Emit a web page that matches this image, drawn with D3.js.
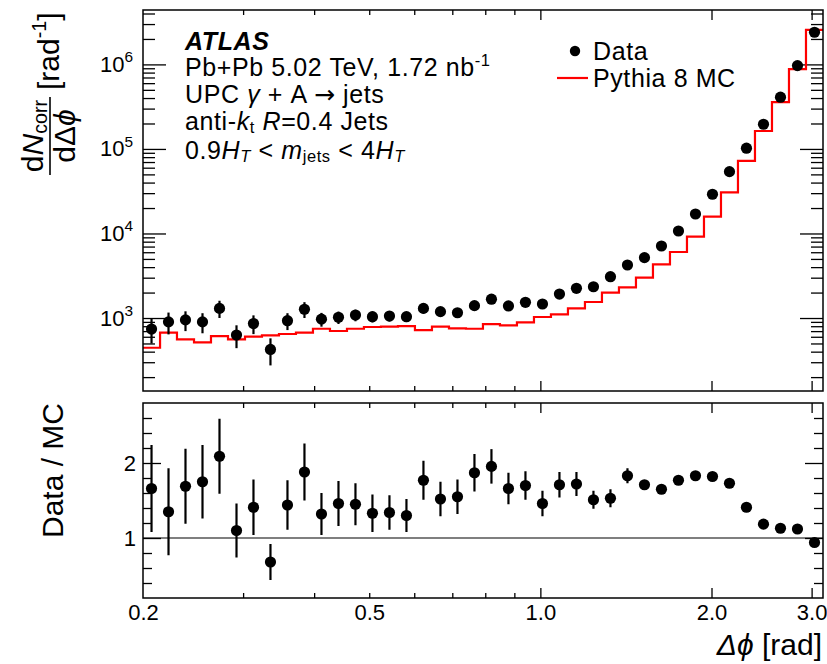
<!DOCTYPE html>
<html>
<head>
<meta charset="utf-8">
<script src="https://cdn.jsdelivr.net/npm/d3@7"></script>
<style>
  body { margin: 0; background: #fff; }
  svg { display: block; font-family: "Liberation Sans", Arial, Helvetica, sans-serif; }
  text { white-space: pre; fill: #000; }
</style>
</head>
<body>
<svg id="chart" width="827" height="664"></svg>
<script>
// Δφ bin edges (log-uniform, 40 bins from 0.2 to π)
const binEdges = [0.2000, 0.2143, 0.2295, 0.2459, 0.2634, 0.2822, 0.3023, 0.3238, 0.3469, 0.3716,
  0.3981, 0.4265, 0.4569, 0.4894, 0.5243, 0.5617, 0.6017, 0.6446, 0.6906, 0.7398,
  0.7925, 0.8490, 0.9095, 0.9744, 1.0438, 1.1182, 1.1979, 1.2833, 1.3748, 1.4728,
  1.5778, 1.6903, 1.8108, 1.9399, 2.0782, 2.2263, 2.3850, 2.5551, 2.7372, 2.9324, 3.1416];

// Corrected data yield dN/dΔφ per bin
const dataCounts = [740, 900, 950, 900, 1300, 630, 860, 425, 930, 1270,
  970, 1020, 1085, 1036, 1056, 1036, 1300, 1190, 1155, 1400,
  1670, 1390, 1535, 1465, 1920, 2245, 2345, 3080, 4240, 5180,
  7110, 10700, 17000, 29100, 53900, 102000, 196000, 409000, 968000, 2400000];
const dataErr = [240, 260, 250, 240, 300, 190, 215, 150, 210, 270,
  180, 170, 170, 150, 150, 140, 170, 150, 140, 160,
  170, 150, 150, 120, 160, 180, 170, 200, 200, 150,
  180, 200, 250, 300, 500, 800, 1500, 3000, 6000, 15000];

// Pythia 8 MC prediction per bin
const mcCounts = [445, 670, 560, 516, 612, 560, 601, 624, 647, 670,
  747, 702, 747, 783, 790, 804, 721, 790, 755, 747,
  849, 819, 889, 1028, 1106, 1303, 1547, 1994, 2307, 2998,
  4316, 6040, 9160, 15800, 30700, 72100, 163000, 357000, 877000, 2560000];

// Data / MC ratio per bin
const ratioVals = [1.66, 1.35, 1.69, 1.75, 2.09, 1.10, 1.41, 0.68, 1.44, 1.88,
  1.32, 1.46, 1.45, 1.33, 1.34, 1.30, 1.77, 1.52, 1.55, 1.87,
  1.955, 1.66, 1.70, 1.46, 1.71, 1.72, 1.51, 1.53, 1.83, 1.71,
  1.65, 1.77, 1.83, 1.82, 1.73, 1.41, 1.185, 1.13, 1.12, 0.94];
const ratioErr = [0.58, 0.58, 0.50, 0.49, 0.50, 0.36, 0.37, 0.24, 0.33, 0.38,
  0.28, 0.30, 0.28, 0.25, 0.23, 0.22, 0.26, 0.23, 0.23, 0.25,
  0.23, 0.21, 0.19, 0.17, 0.17, 0.16, 0.12, 0.12, 0.10, 0.06,
  0.05, 0.04, 0.04, 0.03, 0.03, 0.02, 0.02, 0.02, 0.02, 0.02];

// Axis ticks
const xLabelTicks = [0.2, 0.5, 1.0, 2.0, 3.0];
const xShortTicks = [0.3, 0.4, 0.5, 0.6, 0.7, 0.8, 0.9];
const xLongTicks = [1.0, 2.0, 3.0];
const yTopMajor = [1e3, 1e4, 1e5, 1e6];
const yRatioMajor = [1, 2];
const yRatioMinor = [0.4, 0.6, 0.8, 1.2, 1.4, 1.6, 1.8, 2.2, 2.4, 2.6];

const svg = d3.select("#chart");
const L = 143, R = 823, T1 = 10, B1 = 391, T2 = 403, B2 = 598;
const TICK_FONT = 22, TEXT_FONT = 25, TEXT_SPACING = 0.6, TITLE_FONT = 30;
const PHI = "\u03D5";

const x = d3.scaleLog().domain([0.2, Math.PI]).range([L, R]);
const yTop = d3.scaleLog().domain([137, 4.4e6]).range([B1, T1]);
const yRat = d3.scaleLinear().domain([0.2, 2.8]).range([B2, T2]);

const bins = dataCounts.map((v, i) => ({
  lo: binEdges[i], hi: binEdges[i + 1], c: Math.sqrt(binEdges[i] * binEdges[i + 1]),
  data: v, err: dataErr[i], mc: mcCounts[i], r: ratioVals[i], rErr: ratioErr[i]
}));

// Rich text helper: segments with italic / bold / sub / sup
function richText(g, px, py, segs, size) {
  const t = g.append("text").attr("x", px).attr("y", py).attr("font-size", size);
  let shift = 0;
  segs.forEach(s => {
    const sp = t.append("tspan").text(s.t);
    const target = s.sub ? size * 0.12 : s.sup ? -size * 0.42 : 0;
    sp.attr("dy", target - shift);
    shift = target;
    if (s.sub || s.sup) sp.attr("font-size", size * 0.66);
    if (s.i) sp.attr("font-style", "italic");
    if (s.b) sp.attr("font-weight", "bold");
    if (s.f) sp.attr("font-family", s.f);
  });
  return t;
}

function styleAxis(g, w) {
  g.select(".domain").remove();
  g.selectAll(".tick line").attr("stroke", "#000").attr("stroke-width", w || 1.3);
}

// x ticks on both edges of a panel
function xPanelTicks(top, bottom) {
  [[d3.axisBottom, bottom], [d3.axisTop, top]].forEach(([ax, yp]) => {
    svg.append("g").attr("transform", `translate(0,${yp})`)
      .call(ax(x).tickValues(xShortTicks).tickSize(-5).tickFormat(""))
      .call(g => styleAxis(g));
    svg.append("g").attr("transform", `translate(0,${yp})`)
      .call(ax(x).tickValues(xLongTicks).tickSize(-10).tickFormat(""))
      .call(g => styleAxis(g));
  });
}

// ---------- clip paths ----------
const defs = svg.append("defs");
defs.append("clipPath").attr("id", "clipTop").append("rect")
  .attr("x", L).attr("y", T1).attr("width", R - L).attr("height", B1 - T1);
defs.append("clipPath").attr("id", "clipRat").append("rect")
  .attr("x", L).attr("y", T2).attr("width", R - L).attr("height", B2 - T2);

// ---------- top panel ----------
xPanelTicks(T1, B1);

const yMinorTop = [];
[100, 1e3, 1e4, 1e5, 1e6].forEach(d => { for (let m = 2; m <= 9; m++) yMinorTop.push(d * m); });
const yMinorIn = yMinorTop.filter(v => v >= 137 && v <= 4.4e6);

[[d3.axisLeft, L], [d3.axisRight, R]].forEach(([ax, xp]) => {
  svg.append("g").attr("transform", `translate(${xp},0)`)
    .call(ax(yTop).tickValues(yTopMajor).tickSize(-23).tickFormat(""))
    .call(g => styleAxis(g));
  svg.append("g").attr("transform", `translate(${xp},0)`)
    .call(ax(yTop).tickValues(yMinorIn).tickSize(-12).tickFormat(""))
    .call(g => styleAxis(g));
});

// y labels 10^n
svg.append("g").attr("transform", `translate(${L},0)`)
  .call(d3.axisLeft(yTop).tickValues(yTopMajor).tickSize(0).tickPadding(10).tickFormat(""))
  .call(g => {
    g.select(".domain").remove();
    g.selectAll(".tick text").each(function (d) {
      const t = d3.select(this).attr("font-size", TICK_FONT).attr("font-family", null)
        .attr("dy", "0.32em");
      t.append("tspan").text("10");
      t.append("tspan").text(String(Math.round(Math.log10(d))))
        .attr("font-size", TICK_FONT * 0.7).attr("dy", -TICK_FONT * 0.45);
    });
  });

const gTop = svg.append("g").attr("clip-path", "url(#clipTop)");

// MC histogram
const stepPts = bins.map(b => [b.lo, b.mc]).concat([[binEdges[binEdges.length - 1], mcCounts[mcCounts.length - 1]]]);
gTop.append("path")
  .attr("d", d3.line().x(d => x(d[0])).y(d => yTop(d[1])).curve(d3.curveStepAfter)(stepPts))
  .attr("fill", "none").attr("stroke", "#ff0000").attr("stroke-width", 2.2);

// data error bars + markers
gTop.selectAll(".errTop").data(bins).join("line")
  .attr("x1", d => x(d.c)).attr("x2", d => x(d.c))
  .attr("y1", d => yTop(Math.max(d.data - d.err, 1))).attr("y2", d => yTop(d.data + d.err))
  .attr("stroke", "#000").attr("stroke-width", 2.2);
gTop.selectAll(".ptTop").data(bins).join("circle")
  .attr("cx", d => x(d.c)).attr("cy", d => yTop(d.data)).attr("r", 5.6).attr("fill", "#000");

svg.append("rect").attr("x", L).attr("y", T1).attr("width", R - L).attr("height", B1 - T1)
  .attr("fill", "none").attr("stroke", "#000").attr("stroke-width", 1.5);

// ---------- ratio panel ----------
xPanelTicks(T2, B2);

[[d3.axisLeft, L], [d3.axisRight, R]].forEach(([ax, xp]) => {
  svg.append("g").attr("transform", `translate(${xp},0)`)
    .call(ax(yRat).tickValues(yRatioMajor).tickSize(-18).tickFormat(""))
    .call(g => styleAxis(g));
  svg.append("g").attr("transform", `translate(${xp},0)`)
    .call(ax(yRat).tickValues(yRatioMinor).tickSize(-9).tickFormat(""))
    .call(g => styleAxis(g));
});

svg.append("g").attr("transform", `translate(${L},0)`)
  .call(d3.axisLeft(yRat).tickValues(yRatioMajor).tickSize(0).tickPadding(7).tickFormat(d3.format("d")))
  .call(g => {
    g.select(".domain").remove();
    g.selectAll(".tick text").attr("font-size", TICK_FONT).attr("font-family", null);
  });

const gRat = svg.append("g").attr("clip-path", "url(#clipRat)");
gRat.append("line").attr("x1", L).attr("x2", R).attr("y1", yRat(1)).attr("y2", yRat(1))
  .attr("stroke", "#000").attr("stroke-width", 1.1);
gRat.selectAll(".errRat").data(bins).join("line")
  .attr("x1", d => x(d.c)).attr("x2", d => x(d.c))
  .attr("y1", d => yRat(d.r - d.rErr)).attr("y2", d => yRat(d.r + d.rErr))
  .attr("stroke", "#000").attr("stroke-width", 2.2);
gRat.selectAll(".ptRat").data(bins).join("circle")
  .attr("cx", d => x(d.c)).attr("cy", d => yRat(d.r)).attr("r", 5.6).attr("fill", "#000");

svg.append("rect").attr("x", L).attr("y", T2).attr("width", R - L).attr("height", B2 - T2)
  .attr("fill", "none").attr("stroke", "#000").attr("stroke-width", 1.5);

// x tick labels
svg.append("g").attr("transform", `translate(0,${B2})`)
  .call(d3.axisBottom(x).tickValues(xLabelTicks).tickSize(0).tickPadding(6).tickFormat(d3.format(".1f")))
  .call(g => {
    g.select(".domain").remove();
    g.selectAll(".tick text").attr("font-size", TICK_FONT).attr("font-family", null);
  });

// ---------- axis titles ----------
richText(svg, 822, 655, [{ t: "Δ" + PHI, i: 1 }, { t: " [rad]" }], TITLE_FONT).attr("text-anchor", "end");

const yt = svg.append("g").attr("transform", "translate(50,175) rotate(-90)");
yt.append("line").attr("x1", 0).attr("x2", 78).attr("y1", 0).attr("y2", 0)
  .attr("stroke", "#000").attr("stroke-width", 1.6);
richText(yt, 39, -7, [{ t: "d" }, { t: "N", i: 1 }, { t: "corr", sub: 1 }], TITLE_FONT).attr("text-anchor", "middle");
richText(yt, 39, 25, [{ t: "dΔ" }, { t: PHI, i: 1 }], TITLE_FONT).attr("text-anchor", "middle");
richText(yt, 85, 9, [{ t: "[rad" }, { t: "-1", sup: 1 }, { t: "]" }], TITLE_FONT);

svg.append("text").attr("transform", `translate(63,${T2}) rotate(-90)`)
  .attr("text-anchor", "end").attr("font-size", TITLE_FONT).text("Data / MC");

// ---------- labels ----------
const labelX = 185;
const info = svg.append("g").attr("letter-spacing", TEXT_SPACING);
richText(info, labelX, 50, [{ t: "ATLAS", i: 1, b: 1 }], TEXT_FONT);
richText(info, labelX, 76, [{ t: "Pb+Pb 5.02 TeV, 1.72 nb" }, { t: "-1", sup: 1 }], TEXT_FONT);
richText(info, labelX, 103, [{ t: "UPC " }, { t: "γ", i: 1 }, { t: " + A " }, { t: "→", f: "DejaVu Sans" }, { t: " jets" }], TEXT_FONT);
richText(info, labelX, 130, [{ t: "anti-" }, { t: "k", i: 1 }, { t: "t", sub: 1 }, { t: " " }, { t: "R", i: 1 }, { t: "=0.4 Jets" }], TEXT_FONT);
richText(info, labelX, 159, [{ t: "0.9" }, { t: "H", i: 1 }, { t: "T", i: 1, sub: 1 }, { t: " < " },
  { t: "m", i: 1 }, { t: "jets", sub: 1 }, { t: " < 4" }, { t: "H", i: 1 }, { t: "T", i: 1, sub: 1 }], TEXT_FONT);

// legend
const leg = svg.append("g").attr("letter-spacing", TEXT_SPACING);
leg.append("circle").attr("cx", 575).attr("cy", 51).attr("r", 5.2).attr("fill", "#000");
leg.append("text").attr("x", 593).attr("y", 60).attr("font-size", TEXT_FONT).text("Data");
leg.append("line").attr("x1", 557).attr("x2", 588).attr("y1", 78).attr("y2", 78)
  .attr("stroke", "#ff0000").attr("stroke-width", 2.2);
leg.append("text").attr("x", 593).attr("y", 87).attr("font-size", TEXT_FONT).text("Pythia 8 MC");
</script>
</body>
</html>
